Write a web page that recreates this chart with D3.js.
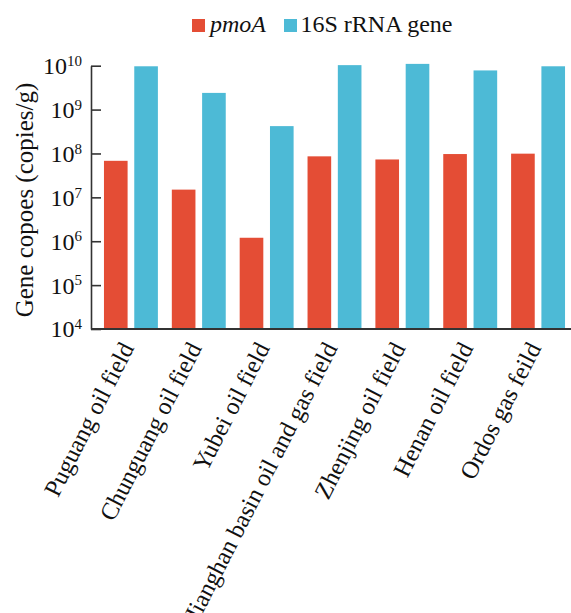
<!DOCTYPE html>
<html>
<head>
<meta charset="utf-8">
<script src="https://cdn.jsdelivr.net/npm/d3@7/dist/d3.min.js"></script>
<style>
  html, body { margin: 0; padding: 0; background: #fff; }
  svg { display: block; }
  text { font-family: "Liberation Serif", "Times New Roman", serif; fill: #111; }
</style>
</head>
<body>
<svg id="chart" width="571" height="613"></svg>
<script>
const categories = ["Puguang oil field", "Chunguang oil field", "Yubei oil field",
  "Jianghan basin oil and gas field", "Zhenjing oil field", "Henan oil field", "Ordos gas feild"];
const seriesNames = ["pmoA", "16S rRNA gene"];
const pmoAValues = [6.8e7, 1.5e7, 1.2e6, 8.6e7, 7.3e7, 9.7e7, 9.9e7];
const rRNAValues = [9.7e9, 2.4e9, 4.2e8, 1.03e10, 1.1e10, 7.8e9, 9.7e9];
const yTickExponents = [4, 5, 6, 7, 8, 9, 10];
const colors = ["#E44D35", "#4DBAD6"];

const svg = d3.select("#chart");
const axisLeftX = 91, axisBottomY = 329, axisTopY = 65.7;

const y = d3.scaleLog().domain([1e4, 1e10]).range([axisBottomY, axisTopY]);
const x0 = d3.scaleBand().domain(categories).range([97, 572]).padding(0);
const x1 = d3.scaleBand().domain(seriesNames).range([0, x0.bandwidth()])
  .paddingInner(0.22).paddingOuter(0.23);

const color = d3.scaleOrdinal().domain(seriesNames).range(colors);

const data = categories.map((c, i) => ({
  cat: c,
  vals: [{ s: seriesNames[0], v: pmoAValues[i] }, { s: seriesNames[1], v: rRNAValues[i] }]
}));

// bars
const groups = svg.append("g").selectAll("g").data(data).join("g")
  .attr("transform", d => `translate(${x0(d.cat)},0)`);
groups.selectAll("rect").data(d => d.vals).join("rect")
  .attr("x", d => x1(d.s))
  .attr("width", x1.bandwidth())
  .attr("y", d => y(d.v))
  .attr("height", d => y(1e4) - y(d.v))
  .attr("fill", d => color(d.s));

// y axis
const yAxis = d3.axisLeft(y)
  .tickValues(yTickExponents.map(e => Math.pow(10, e)))
  .tickSizeInner(-10).tickSizeOuter(0).tickPadding(9)
  .tickFormat(() => "");
const gy = svg.append("g").attr("transform", `translate(${axisLeftX},0)`).call(yAxis);
gy.select(".domain").attr("stroke", "#333").attr("stroke-width", 1.6);
gy.selectAll(".tick line").attr("stroke", "#333").attr("stroke-width", 1.6);
gy.selectAll(".tick text").each(function(d) {
  const t = d3.select(this).attr("font-size", 24).attr("dy", "0.33em");
  t.text(null);
  t.append("tspan").text("10");
  t.append("tspan").attr("font-size", 15).attr("dy", "-0.55em")
    .text(Math.round(Math.log10(d)));
});

// x axis (baseline + rotated labels)
svg.append("line")
  .attr("x1", axisLeftX).attr("x2", 571)
  .attr("y1", axisBottomY).attr("y2", axisBottomY)
  .attr("stroke", "#333").attr("stroke-width", 1.8);

const xAxis = d3.axisBottom(x0).tickSize(0).tickPadding(0);
const gx = svg.append("g").attr("transform", `translate(0,${axisBottomY})`).call(xAxis);
gx.select(".domain").remove();
gx.selectAll(".tick text")
  .attr("font-size", 24.5)
  .attr("text-anchor", "end")
  .attr("x", 0).attr("y", 0).attr("dy", "0.35em")
  .attr("transform", "translate(-4,15) rotate(-63)");

// y title
svg.append("text")
  .attr("transform", "translate(33,200) rotate(-90)")
  .attr("text-anchor", "middle")
  .attr("font-size", 25)
  .text("Gene copoes (copies/g)");

// legend
const legendX = [192, 284];
const lg = svg.append("g").selectAll("g").data(seriesNames).join("g")
  .attr("transform", (d, i) => `translate(${legendX[i]},19)`);
lg.append("rect").attr("width", 13).attr("height", 13).attr("fill", d => color(d));
lg.append("text").attr("x", (d, i) => i === 0 ? 18 : 16.5).attr("y", 12.8)
  .attr("font-size", 24)
  .attr("font-style", (d, i) => i === 0 ? "italic" : "normal")
  .text(d => d);
</script>
</body>
</html>
